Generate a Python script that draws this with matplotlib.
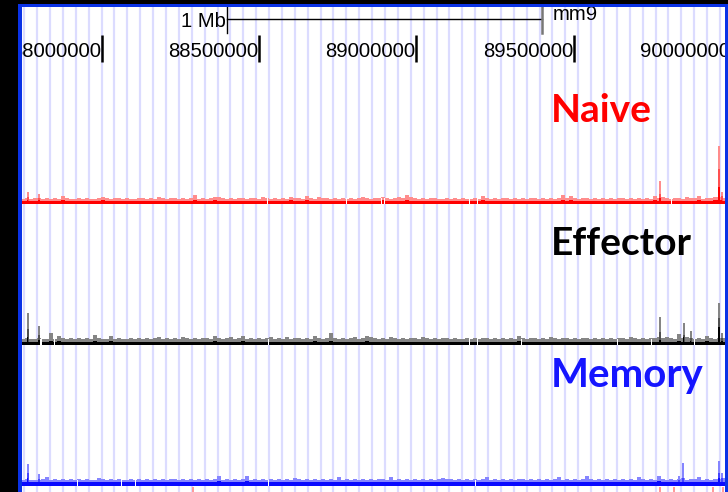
import matplotlib
matplotlib.use("Agg")
import matplotlib.pyplot as plt
from matplotlib.patches import Rectangle

# ---------------------------------------------------------------- data
view_start = 87_743_600
view_end = 89_980_208
ruler_ticks = [88_000_000, 88_500_000, 89_000_000, 89_500_000, 90_000_000]
ruler_labels = ["88000000", "88500000", "89000000", "89500000", "90000000"]
scale_start = 88_399_000
scale_len = 1_000_000
scale_label = "1 Mb"
assembly = "mm9"

# fixed-step signal bins
bin_start = 87_743_600
bin_size = 12_708

track_names = ["Naive", "Effector", "Memory"]

naive_max = [5, 6, 5, 6, 6, 5, 6, 5, 6, 5, 8, 6, 5, 5, 6, 5,
             6, 5, 5, 6, 7, 6, 5, 6, 6, 5, 6, 5, 5, 6, 6, 5,
             6, 5, 7, 6, 5, 6, 6, 5, 6, 5, 6, 9, 5, 6, 5, 6,
             7, 7, 6, 5, 6, 5, 6, 6, 5, 6, 6, 5, 7, 6, 5, 6,
             5, 6, 5, 7, 6, 6, 5, 8, 6, 5, 7, 6, 6, 5, 6, 5,
             6, 5, 6, 5, 6, 7, 6, 5, 6, 6, 7, 6, 5, 6, 7, 6,
             9, 7, 6, 5, 6, 5, 6, 6, 5, 5, 6, 5, 6, 5, 6, 5,
             5, 6, 5, 8, 6, 5, 6, 5, 6, 6, 5, 6, 5, 6, 5, 6,
             6, 5, 6, 5, 6, 5, 6, 9, 6, 8, 6, 5, 6, 6, 5, 6,
             5, 6, 5, 6, 5, 6, 6, 5, 6, 5, 6, 5, 6, 5, 8, 6,
             7, 6, 5, 6, 6, 5, 7, 6, 6, 8, 5, 6, 6, 7, 7, 6]
naive_mean = [3, 3, 3, 3, 3, 3, 3, 3, 3, 3, 4, 3, 3, 3, 3, 3,
              3, 3, 3, 3, 4, 3, 3, 3, 3, 3, 3, 3, 3, 3, 3, 3,
              3, 3, 3, 3, 3, 3, 3, 3, 3, 3, 3, 4, 3, 3, 3, 3,
              4, 3, 3, 3, 3, 3, 3, 3, 3, 3, 3, 3, 3, 3, 3, 3,
              3, 3, 3, 4, 3, 3, 3, 4, 3, 3, 3, 3, 3, 3, 3, 3,
              3, 3, 3, 3, 3, 3, 3, 3, 3, 3, 4, 3, 3, 3, 3, 3,
              4, 3, 3, 3, 3, 3, 3, 3, 3, 3, 3, 3, 3, 3, 3, 3,
              3, 3, 3, 4, 3, 3, 3, 3, 3, 3, 3, 3, 3, 3, 3, 3,
              3, 3, 3, 3, 3, 3, 3, 4, 3, 4, 3, 3, 3, 3, 3, 3,
              3, 3, 3, 3, 3, 3, 3, 3, 3, 3, 3, 3, 3, 3, 4, 3,
              3, 3, 3, 3, 3, 3, 3, 3, 3, 4, 3, 3, 3, 4, 4, 3]

effector_max = [6, 7, 6, 6, 7, 6, 6, 12, 6, 9, 7, 6, 7, 6, 7, 6,
                7, 6, 10, 7, 6, 6, 9, 6, 7, 6, 6, 7, 6, 7, 6, 7,
                6, 7, 8, 6, 7, 6, 7, 6, 8, 7, 6, 7, 6, 7, 7, 6,
                9, 7, 6, 7, 8, 6, 7, 9, 6, 7, 6, 7, 6, 7, 8, 6,
                7, 6, 8, 6, 7, 7, 6, 7, 6, 9, 7, 6, 7, 12, 7, 6,
                7, 6, 7, 8, 6, 7, 9, 8, 7, 6, 7, 6, 8, 7, 6, 7,
                6, 7, 7, 6, 8, 7, 6, 7, 6, 7, 7, 6, 7, 6, 6, 7,
                6, 7, 6, 7, 7, 6, 7, 6, 7, 6, 7, 6, 9, 7, 6, 7,
                7, 6, 7, 6, 8, 7, 6, 7, 7, 6, 7, 6, 7, 7, 6, 7,
                6, 7, 6, 7, 6, 7, 7, 6, 8, 7, 6, 7, 6, 7, 7, 8,
                7, 8, 7, 6, 11, 7, 8, 7, 6, 7, 6, 9, 7, 6, 7, 7]
effector_mean = [3, 3, 3, 3, 3, 3, 3, 4, 3, 4, 3, 3, 3, 3, 3, 3,
                 3, 3, 4, 3, 3, 3, 4, 3, 3, 3, 3, 3, 3, 3, 3, 3,
                 3, 3, 3, 3, 3, 3, 3, 3, 3, 3, 3, 3, 3, 3, 3, 3,
                 4, 3, 3, 3, 3, 3, 3, 4, 3, 3, 3, 3, 3, 3, 3, 3,
                 3, 3, 3, 3, 3, 3, 3, 3, 3, 4, 3, 3, 3, 4, 3, 3,
                 3, 3, 3, 3, 3, 3, 4, 3, 3, 3, 3, 3, 3, 3, 3, 3,
                 3, 3, 3, 3, 3, 3, 3, 3, 3, 3, 3, 3, 3, 3, 3, 3,
                 3, 3, 3, 3, 3, 3, 3, 3, 3, 3, 3, 3, 4, 3, 3, 3,
                 3, 3, 3, 3, 3, 3, 3, 3, 3, 3, 3, 3, 3, 3, 3, 3,
                 3, 3, 3, 3, 3, 3, 3, 3, 3, 3, 3, 3, 3, 3, 3, 3,
                 3, 3, 3, 3, 4, 3, 3, 3, 3, 3, 3, 4, 3, 3, 3, 3]

memory_max = [6, 7, 6, 6, 6, 7, 9, 6, 7, 6, 7, 6, 7, 6, 7, 6,
              7, 6, 6, 8, 7, 6, 7, 6, 7, 6, 6, 7, 6, 7, 6, 7,
              6, 7, 6, 7, 6, 7, 7, 6, 7, 6, 7, 6, 7, 6, 7, 6,
              7, 10, 6, 7, 6, 7, 6, 7, 10, 6, 7, 6, 7, 6, 7, 6,
              7, 6, 7, 6, 8, 7, 6, 7, 6, 7, 6, 7, 6, 7, 6, 9,
              6, 7, 6, 7, 6, 7, 6, 7, 6, 7, 7, 6, 9, 6, 7, 6,
              7, 6, 7, 6, 7, 6, 7, 6, 7, 8, 7, 7, 6, 7, 6, 7,
              6, 7, 6, 7, 9, 6, 7, 6, 7, 6, 7, 6, 7, 7, 6, 7,
              6, 7, 6, 7, 6, 7, 9, 6, 7, 6, 7, 6, 7, 10, 7, 6,
              7, 6, 7, 6, 7, 6, 7, 6, 7, 6, 9, 7, 6, 7, 6, 10,
              7, 6, 7, 6, 7, 8, 6, 7, 7, 9, 6, 7, 6, 7, 7, 8]
memory_mean = [4, 4, 4, 4, 4, 4, 4, 4, 4, 4, 4, 4, 4, 4, 4, 4,
               4, 4, 4, 4, 4, 4, 4, 4, 4, 4, 4, 4, 4, 4, 4, 4,
               4, 4, 4, 4, 4, 4, 4, 4, 4, 4, 4, 4, 4, 4, 4, 4,
               4, 5, 4, 4, 4, 4, 4, 4, 5, 4, 4, 4, 4, 4, 4, 4,
               4, 4, 4, 4, 4, 4, 4, 4, 4, 4, 4, 4, 4, 4, 4, 4,
               4, 4, 4, 4, 4, 4, 4, 4, 4, 4, 4, 4, 4, 4, 4, 4,
               4, 4, 4, 4, 4, 4, 4, 4, 4, 4, 4, 4, 4, 4, 4, 4,
               4, 4, 4, 4, 4, 4, 4, 4, 4, 4, 4, 4, 4, 4, 4, 4,
               4, 4, 4, 4, 4, 4, 4, 4, 4, 4, 4, 4, 4, 4, 4, 4,
               4, 4, 4, 4, 4, 4, 4, 4, 4, 4, 4, 4, 4, 4, 4, 5,
               4, 4, 4, 4, 4, 4, 4, 4, 4, 4, 4, 4, 4, 4, 4, 4]

# narrow summits (position, max / intermediate / mean signal)
naive_peak_pos = [87_764_900, 87_800_800, 89_773_700, 89_961_200, 89_970_000]
naive_peak_max = [12, 10, 23, 58, 12]
naive_peak_mid = [7, 6, 10, 35, 8]
naive_peak_mean = [4, 4, 6, 17, 4]

effector_peak_pos = [87_764_900, 87_800_800, 89_773_700, 89_848_700,
                     89_870_900, 89_961_200, 89_970_700]
effector_peak_max = [32, 19, 28, 22, 14, 42, 12]
effector_peak_mid = [16, 10, 13, 10, 7, 27, 7]
effector_peak_mean = [8, 5, 5, 8, 4, 18, 4]

memory_peak_pos = [87_764_900, 87_800_800, 89_834_100, 89_847_400,
                   89_961_200, 89_971_600]
memory_peak_max = [22, 12, 10, 23, 25, 13]
memory_peak_mid = [13, 7, 6, 8, 13, 8]
memory_peak_mean = [8, 4, 4, 4, 8, 4]

# positions without coverage
naive_gaps = [88_527_000, 88_778_000, 88_889_000, 88_898_000,
              89_168_000, 89_194_000, 89_810_000]
effector_gaps = [87_807_000, 87_850_000, 88_530_000, 89_168_000,
                 89_194_000, 89_333_000, 89_638_000, 89_746_000, 89_884_000]
memory_gaps = [87_923_000, 88_063_000, 88_107_000, 88_530_000, 89_187_000]

# summits of the next track down
next_peak_pos = [88_289_100, 89_773_700, 89_818_200, 89_941_100, 89_974_800]
next_peak_max = [14, 14, 14, 14, 14]

# ---------------------------------------------------------------- layout
W, H = 728, 492
fig = plt.figure(figsize=(W / 100, H / 100), dpi=100, facecolor="white")


def fx(x):
    return x / W


def fy(y):
    return 1 - y / H


grid_color = "#dcdcff"
frame_blue = "#0a32e6"
ruler_font = ["Liberation Sans", "DejaVu Sans"]
label_font = ["Lato", "DejaVu Sans"]

X0, X1 = 21, 725

# background with guide lines, ruler and scale bar (y in pixels from top)
bg = fig.add_axes([fx(X0), 0, fx(X1) - fx(X0), 1])
bg.set_xlim(view_start, view_end)
bg.set_ylim(H, 0)
bg.axis("off")
bg.add_patch(Rectangle((view_start, 0), view_end - view_start, H,
                       facecolor="white", edgecolor="none", zorder=0))

guide_first = 87_754_000
guide_step = 40_930
g = guide_first
while g < view_end:
    bg.axvline(g, color=grid_color, lw=1.6, zorder=1)
    g += guide_step

for pos, lab in zip(ruler_ticks, ruler_labels):
    bg.plot([pos, pos], [35, 62], color="black", lw=1.8, zorder=3,
            solid_capstyle="butt", clip_on=False)
    bg.text(pos - 2500, 57.3, lab, ha="right", va="baseline",
            fontsize=14.6, family=ruler_font, color="black", zorder=3)

scale_end = scale_start + scale_len
bg.plot([scale_start, scale_end], [19.3, 19.3], color="black", lw=1.0, zorder=3)
bg.plot([scale_start, scale_start], [7, 33], color="black", lw=1.0, zorder=3)
bg.plot([scale_end, scale_end], [4, 33], color="#777777", lw=1.8, zorder=3)
bg.text(scale_start - 4000, 26.7, scale_label, ha="right", va="baseline",
        fontsize=14.6, family=ruler_font, color="black", zorder=3)
bg.text(scale_end + 35000, 20.0, assembly, ha="left", va="baseline",
        fontsize=14.6, family=ruler_font, color="black", zorder=3)

tracks = [
    dict(name="Naive", base=204.3, mx=naive_max, mn=naive_mean,
         ppos=naive_peak_pos, pmax=naive_peak_max, pmid=naive_peak_mid,
         pmn=naive_peak_mean, gaps=naive_gaps,
         light="#ff8c8c", mid="#ff5050", dark="#ff0000",
         text="#ff0000", tbase=121.5, size=28),
    dict(name="Effector", base=344.8, mx=effector_max, mn=effector_mean,
         ppos=effector_peak_pos, pmax=effector_peak_max, pmid=effector_peak_mid,
         pmn=effector_peak_mean, gaps=effector_gaps,
         light="#858585", mid="#505050", dark="#000000",
         text="#000000", tbase=254.5, size=28),
    dict(name="Memory", base=485.5, mx=memory_max, mn=memory_mean,
         ppos=memory_peak_pos, pmax=memory_peak_max, pmid=memory_peak_mid,
         pmn=memory_peak_mean, gaps=memory_gaps,
         light="#8585ff", mid="#4545ff", dark="#0a0aff",
         text="#1515ff", tbase=387.5, size=29),
]

TRACK_H = 130
bin_left = [bin_start + i * bin_size for i in range(len(naive_max))]
peak_w = 6_400
gap_w = 4_800

for t in tracks:
    ax = fig.add_axes([fx(X0), fy(t["base"]), fx(X1) - fx(X0), TRACK_H / H])
    ax.set_xlim(view_start, view_end)
    ax.set_ylim(0, TRACK_H)
    ax.axis("off")
    ax.patch.set_visible(False)
    ax.bar(bin_left, t["mx"], width=bin_size, align="edge",
           color=t["light"], linewidth=0, zorder=2)
    ax.bar(t["ppos"], t["pmax"], width=peak_w, color=t["light"],
           linewidth=0, zorder=2)
    ax.bar(t["ppos"], t["pmid"], width=peak_w, color=t["mid"],
           linewidth=0, zorder=3)
    ax.bar(bin_left, t["mn"], width=bin_size, align="edge",
           color=t["dark"], linewidth=0, zorder=4)
    ax.bar(t["ppos"], t["pmn"], width=peak_w * 0.6, color=t["dark"],
           linewidth=0, zorder=4)
    ax.bar(t["gaps"], [6] * len(t["gaps"]), width=gap_w, color="white",
           linewidth=0, zorder=5)
    fig.text(fx(551), fy(t["tbase"]), t["name"], ha="left", va="baseline",
             fontsize=t["size"], fontweight="bold", family=label_font,
             color=t["text"], zorder=6)

# top of the following track, cut by the lower edge
nx = fig.add_axes([fx(X0), fy(501), fx(X1) - fx(X0), TRACK_H / H])
nx.set_xlim(view_start, view_end)
nx.set_ylim(0, TRACK_H)
nx.axis("off")
nx.patch.set_visible(False)
nx.bar(next_peak_pos, next_peak_max, width=peak_w, color="#ff9a9a",
       linewidth=0)

# browser window border
border = [
    (0, 0, 18.3, H, "black"),
    (0, 0, W, 4, "black"),
    (18.3, 4, 3.2, H - 4, frame_blue),
    (18.3, 4, W - 18.3, 2.7, frame_blue),
    (725, 4, 3, H - 4, frame_blue),
]
for x, y, w, h, c in border:
    fig.add_artist(Rectangle((fx(x), fy(y + h)), w / W, h / H,
                             transform=fig.transFigure, facecolor=c,
                             edgecolor="none", zorder=20))

fig.savefig("out.png", dpi=100, facecolor="white")
